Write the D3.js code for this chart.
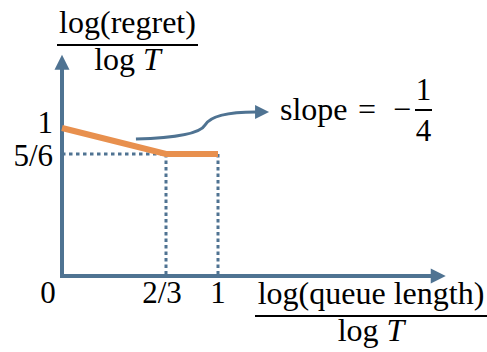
<!DOCTYPE html>
<html>
<head>
<meta charset="utf-8">
<script src="https://cdn.jsdelivr.net/npm/d3@7"></script>
</head>
<body style="margin:0">
<script>
// regret exponent vs queue-length exponent
var queueExp = [0, 2 / 3, 1];
var regretExp = [1, 5 / 6, 5 / 6];

// tick values and labels
var xTickValues = [2 / 3, 1];
var xTickLabels = ["2/3", "1"];
var yTickValues = [1, 5 / 6];
var yTickLabels = ["1", "5/6"];

// annotation curve (data units): start, ctrl, ctrl, mid, ctrl, ctrl, end
var slopeArrowX = [0.474, 0.724, 0.885, 0.917, 0.949, 1.077, 1.244];
var slopeArrowY = [0.929, 0.936, 0.962, 1.019, 1.077, 1.103, 1.103];

var blue = "#4f7392";
var orange = "#e8904e";
var width = 487, height = 352;
var fontSize = 31;
var fontFace = "Liberation Serif";

const svg = d3.select("body")
    .append("svg")
    .attr("width", width)
    .attr("height", height);

// every text gets the serif face set inline
function label(parent, size) {
    return parent.append("text")
        .attr("font-family", fontFace)
        .style("font-family", fontFace)
        .attr("font-size", size);
}

const x = d3.scaleLinear()
    .domain([0, 1])
    .range([62, 218]);
// schematic: the y axis is compressed below 5/6
const y = d3.scaleLinear()
    .domain([0, 5 / 6, 1])
    .range([276, 154, 128]);

const xEnd = 2.46, yEnd = 1.47;

// dotted guide lines
svg.append("line")
    .attr("x1", x(0)).attr("x2", x(2 / 3))
    .attr("y1", y(5 / 6)).attr("y2", y(5 / 6))
    .attr("stroke", blue).attr("stroke-width", 3)
    .attr("stroke-dasharray", "3.5,3.5");
xTickValues.forEach(function (v) {
    svg.append("line")
        .attr("x1", x(v)).attr("x2", x(v))
        .attr("y1", y(5 / 6)).attr("y2", y(0))
        .attr("stroke", blue).attr("stroke-width", 3)
        .attr("stroke-dasharray", "3.5,3");
});

// axes with arrow heads
svg.append("line")
    .attr("x1", x(0)).attr("x2", x(0))
    .attr("y1", y(0) + 2).attr("y2", y(yEnd) + 14)
    .attr("stroke", blue).attr("stroke-width", 4);
svg.append("line")
    .attr("x1", x(0) - 2).attr("x2", x(xEnd) - 14)
    .attr("y1", y(0)).attr("y2", y(0))
    .attr("stroke", blue).attr("stroke-width", 4);
svg.append("path")
    .attr("d", `M${x(0)},${y(yEnd)} L${x(0) + 7.5},${y(yEnd) + 15} L${x(0) - 7.5},${y(yEnd) + 15} Z`)
    .attr("fill", blue);
svg.append("path")
    .attr("d", `M${x(xEnd)},${y(0)} L${x(xEnd) - 15},${y(0) - 7.5} L${x(xEnd) - 15},${y(0) + 7.5} Z`)
    .attr("fill", blue);

// regret curve
svg.append("path")
    .datum(d3.range(queueExp.length))
    .attr("d", d3.line().x(i => x(queueExp[i])).y(i => y(regretExp[i])))
    .attr("fill", "none")
    .attr("stroke", orange)
    .attr("stroke-width", 6);

// slope annotation arrow
const p = d3.path();
const ax = slopeArrowX.map(x), ay = slopeArrowY.map(y);
p.moveTo(ax[0], ay[0]);
p.bezierCurveTo(ax[1], ay[1], ax[2], ay[2], ax[3], ay[3]);
p.bezierCurveTo(ax[4], ay[4], ax[5], ay[5], ax[6], ay[6]);
svg.append("path")
    .attr("d", p.toString())
    .attr("fill", "none")
    .attr("stroke", blue)
    .attr("stroke-width", 3);
svg.append("path")
    .attr("d", `M${ax[6] + 13},${ay[6]} L${ax[6] - 1},${ay[6] - 7} L${ax[6] - 1},${ay[6] + 7} Z`)
    .attr("fill", blue);

// tick labels
label(svg, fontSize)
    .attr("x", x(0) - 14).attr("y", y(0) + 27)
    .attr("text-anchor", "middle")
    .text("0");
xTickValues.forEach(function (v, i) {
    label(svg, fontSize)
        .attr("x", x(v) - (i == 0 ? 4 : 0)).attr("y", y(0) + 27)
        .attr("text-anchor", "middle")
        .text(xTickLabels[i]);
});
yTickValues.forEach(function (v, i) {
    label(svg, fontSize)
        .attr("x", x(0) - 9).attr("y", y(v) + (i == 0 ? 5 : 12))
        .attr("text-anchor", "end")
        .text(yTickLabels[i]);
});

// fraction helper for axis titles
function fraction(cx, baseTop, numer, w) {
    const g = svg.append("g");
    label(g, fontSize + 1)
        .attr("x", cx).attr("y", baseTop)
        .attr("text-anchor", "middle")
        .text(numer);
    g.append("line")
        .attr("x1", cx - w / 2).attr("x2", cx + w / 2)
        .attr("y1", baseTop + 12).attr("y2", baseTop + 12)
        .attr("stroke", "#000").attr("stroke-width", 2);
    const t = label(g, fontSize + 1)
        .attr("x", cx).attr("y", baseTop + 37)
        .attr("text-anchor", "middle");
    t.append("tspan").text("log ");
    t.append("tspan").attr("font-style", "italic").text("T");
}
fraction(127.5, 33, "log(regret)", 141);
fraction(371, 304, "log(queue length)", 232);

// slope label, spaced like the typeset formula
const s = svg.append("g");
label(s, fontSize + 1)
    .attr("x", 280).attr("y", 120)
    .text("slope");
label(s, fontSize + 1)
    .attr("x", 367).attr("y", 120)
    .attr("text-anchor", "middle")
    .text("=");
label(s, fontSize + 1)
    .attr("x", 402).attr("y", 120)
    .attr("text-anchor", "middle")
    .text("\u2212");
label(s, fontSize)
    .attr("x", 423.5).attr("y", 100)
    .attr("text-anchor", "middle")
    .text("1");
s.append("line")
    .attr("x1", 415).attr("x2", 432)
    .attr("y1", 110).attr("y2", 110)
    .attr("stroke", "#000").attr("stroke-width", 2);
label(s, fontSize)
    .attr("x", 423.5).attr("y", 141)
    .attr("text-anchor", "middle")
    .text("4");
</script>
</body>
</html>
